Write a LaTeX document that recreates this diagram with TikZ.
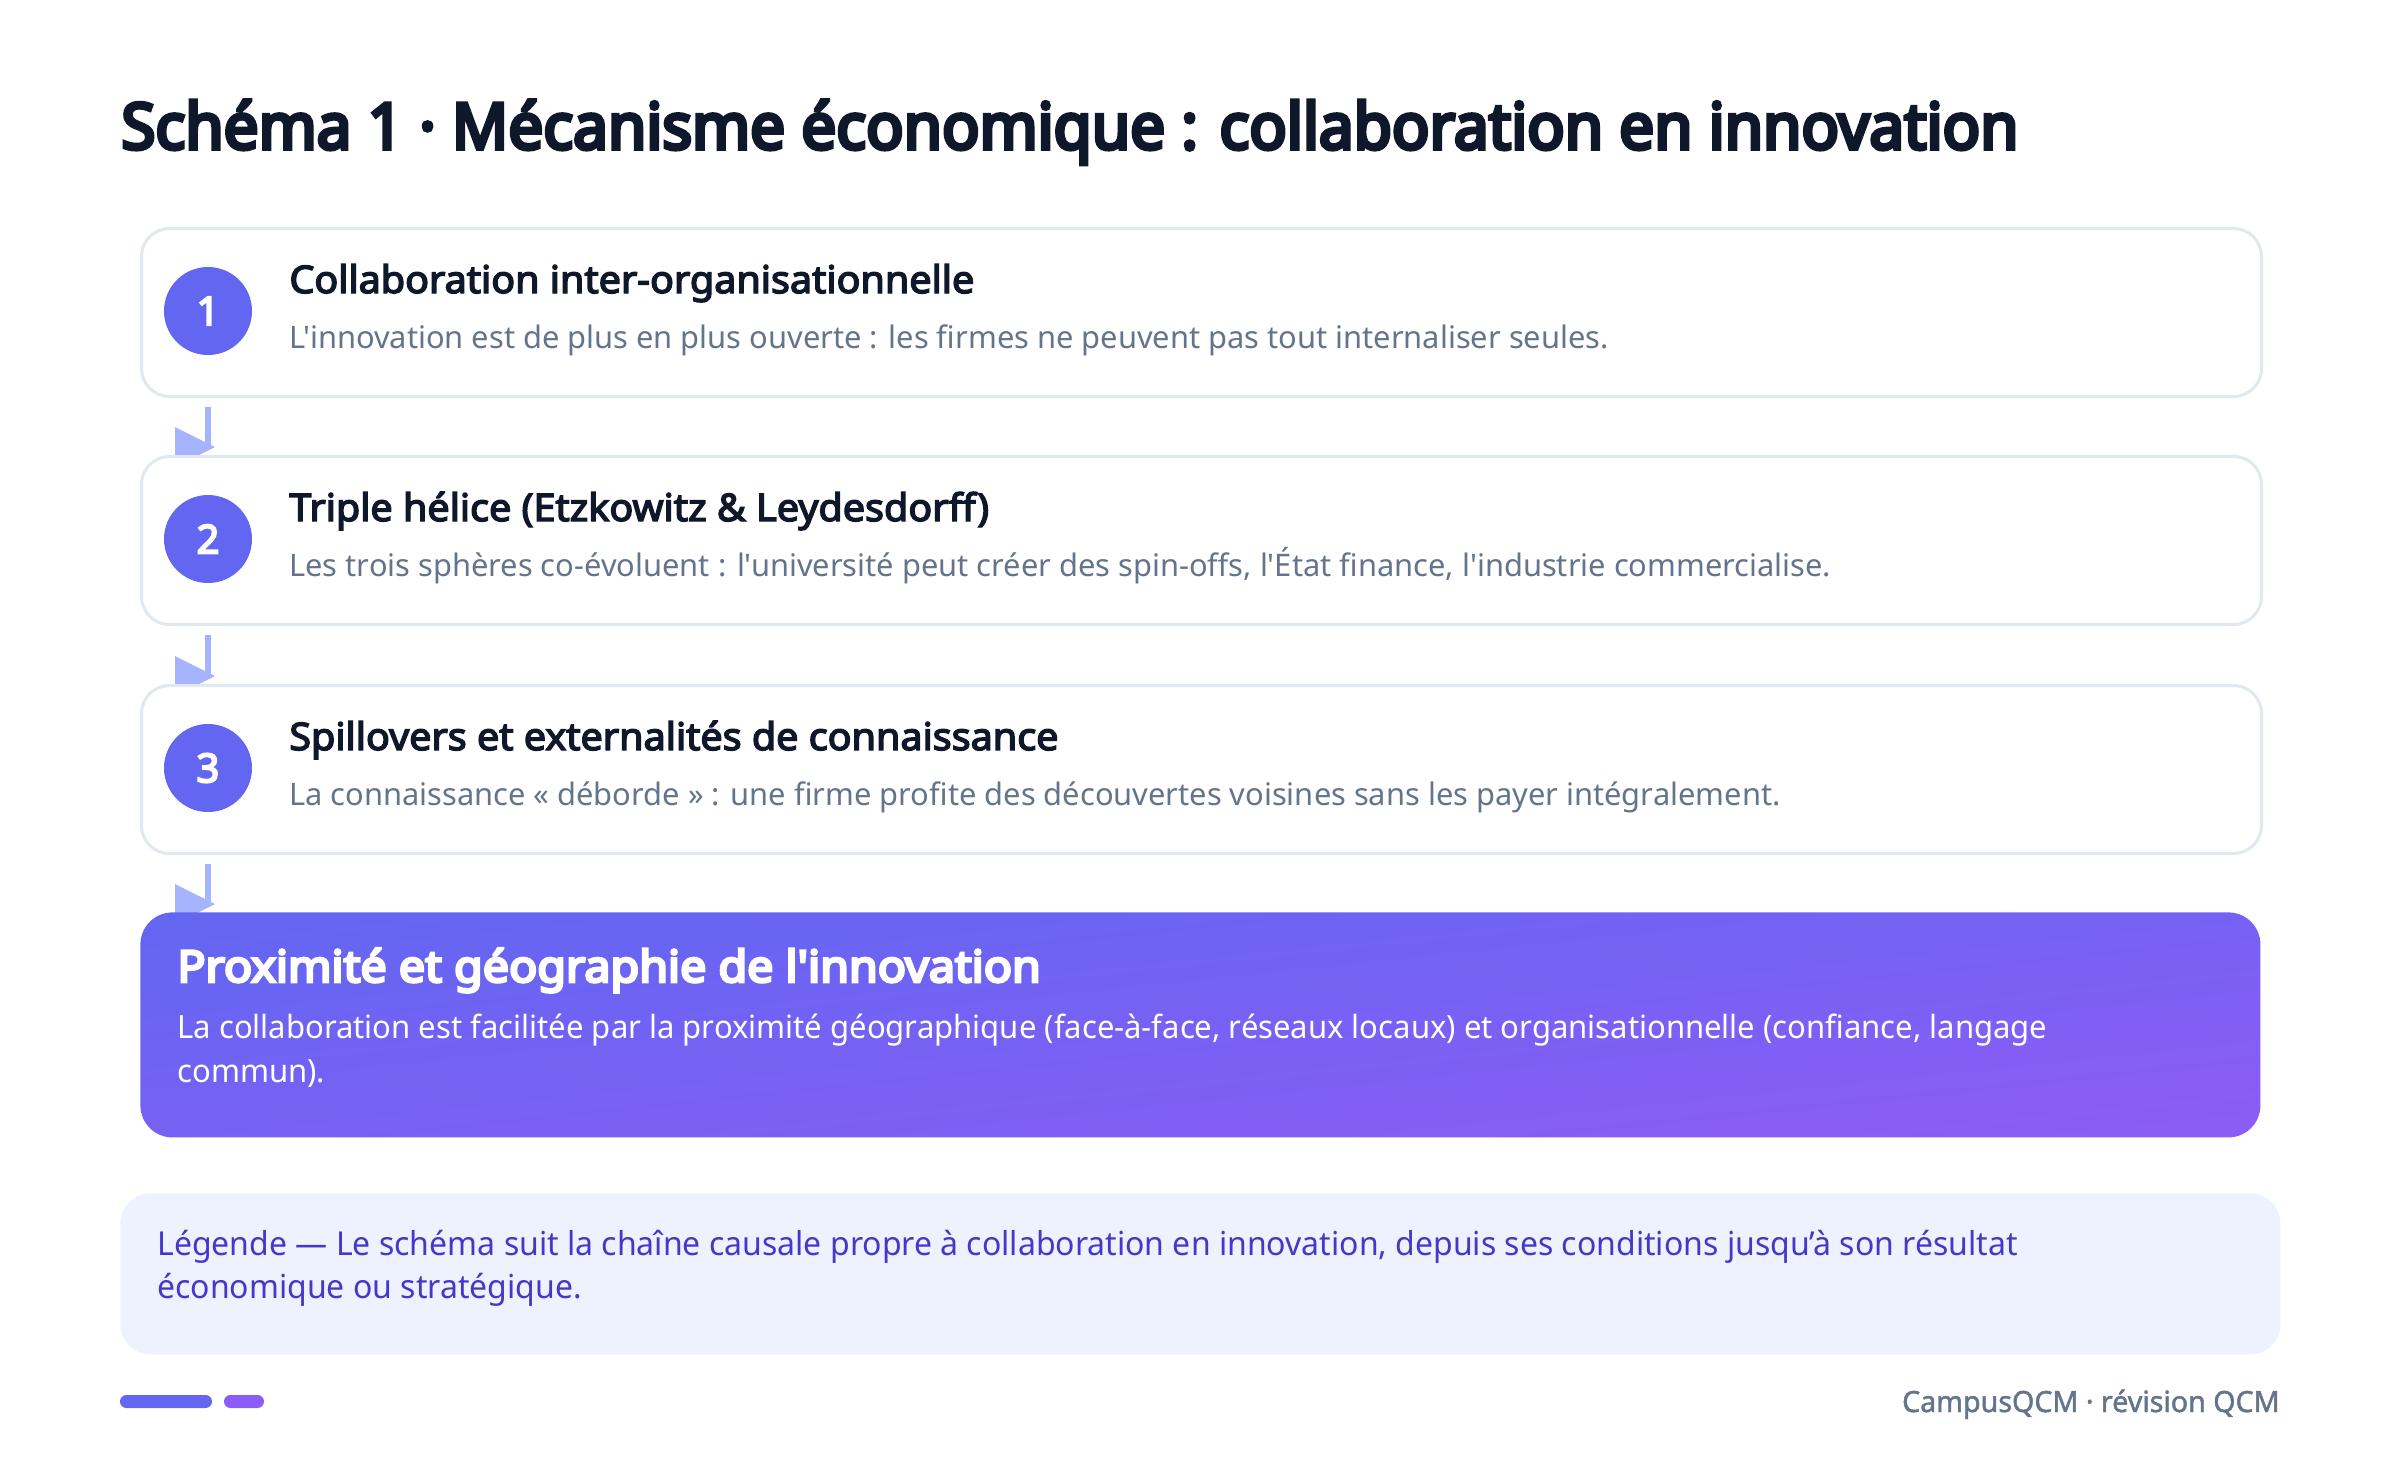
\documentclass[tikz,border=0pt]{standalone}
\usepackage{fontspec}
\setmainfont{Noto Sans}
\newfontfamily\titlefont{Noto Sans}[FakeStretch=0.97, FakeBold=6]
\newfontfamily\stepfont{Noto Sans}[FakeStretch=1.04, FakeBold=3.8]
\newfontfamily\heavyfont{Noto Sans}[FakeStretch=1.06, FakeBold=6]
\newfontfamily\numfont{Noto Sans}[FakeBold=4.5]
\newfontfamily\descfont{Noto Sans}[FakeStretch=0.97]
\newfontfamily\plainfont{Noto Sans}[FakeStretch=0.995]
\newfontfamily\footfont{Noto Sans}[FakeStretch=0.98, FakeBold=1.5]
\usetikzlibrary{calc}
\definecolor{ink}{HTML}{0F172A}
\definecolor{muted}{HTML}{64748B}
\definecolor{border}{HTML}{E2E8F0}
\definecolor{indigo}{HTML}{6366F1}
\definecolor{violet}{HTML}{8B5CF6}
\definecolor{arrowc}{HTML}{A5B4FC}
\definecolor{legbg}{HTML}{EEF2FF}
\definecolor{legtx}{HTML}{4338CA}
\pgfdeclarelayer{background}
\pgfsetlayers{background,main}
\begin{document}
\begin{tikzpicture}[x=0.5pt,y=-0.5pt,
  stepbox/.style={draw=border, line width=1.5pt, fill=white, rounded corners=14pt,
    minimum width=1060pt, minimum height=84pt, anchor=north west, inner sep=0pt},
  numcirc/.style={circle, fill=indigo, minimum size=44pt, inner sep=0pt, text=white,
    font=\numfont\fontsize{20}{24}\selectfont},
  steptitle/.style={anchor=base west, inner sep=0pt, text=ink,
    font=\stepfont\fontsize{19}{23}\selectfont},
  stepdesc/.style={anchor=base west, inner sep=0pt, text=muted,
    font=\plainfont\fontsize{15.5}{19}\selectfont},
  finalbox/.style={rounded corners=16pt, minimum width=1060pt, minimum height=112.5pt,
    anchor=north west, inner sep=0pt, top color=indigo, bottom color=violet, shading angle=6},
  fintitle/.style={anchor=base west, inner sep=0pt, text=white,
    font=\heavyfont\fontsize{22}{26}\selectfont},
  findesc/.style={anchor=base west, inner sep=0pt, text=white,
    font=\descfont\fontsize{16}{19}\selectfont},
  legbox/.style={fill=legbg, rounded corners=15pt, minimum width=1080pt, minimum height=80.5pt,
    anchor=north west, inner sep=0pt},
  legtext/.style={anchor=base west, inner sep=0pt, text=legtx,
    font=\descfont\fontsize{16.5}{20}\selectfont},
  flow/.style={draw=arrowc, line width=3pt},
  tipfill/.style={fill=arrowc},
  footer/.style={anchor=base east, inner sep=0pt, text=muted,
    font=\footfont\fontsize{14.6}{17}\selectfont}
]
\begin{pgfonlayer}{background}
\fill[white] (0,0) rectangle (2400,1463);
\end{pgfonlayer}
\useasboundingbox (0,0) rectangle (2400,1463);

\node[anchor=base west, inner sep=0pt, text=ink, font=\titlefont\fontsize{32}{38}\selectfont]
  (title) at (121,149) {Schéma 1 · Mécanisme économique : collaboration en innovation};

% step boxes
\node[stepbox] (b1) at (140,227) {};
\node[stepbox] (b2) at (140,455) {};
\node[stepbox] (b3) at (140,684) {};

\node[numcirc] (c1) at (208,311) {1};
\node[numcirc] (c2) at (208,539) {2};
\node[numcirc] (c3) at (208,768) {3};

\node[steptitle] (t1) at (289,293) {Collaboration inter-organisationnelle};
\node[stepdesc] (d1) at (289,348) {L'innovation est de plus en plus ouverte : les firmes ne peuvent pas tout internaliser seules.};
\node[steptitle] (t2) at (289,521) {Triple hélice (Etzkowitz \& Leydesdorff)};
\node[stepdesc] (d2) at (289,576) {Les trois sphères co-évoluent : l'université peut créer des spin-offs, l'État finance, l'industrie commercialise.};
\node[steptitle] (t3) at (289,750) {Spillovers et externalités de connaissance};
\node[stepdesc] (d3) at (289,805) {La connaissance « déborde » : une firme profite des découvertes voisines sans les payer intégralement.};

% final box
\node[finalbox] (fin) at (140,912) {};
\node[fintitle] (ft) at (177,982) {Proximité et géographie de l'innovation};
\node[findesc] (fd1) at (177,1038) {La collaboration est facilitée par la proximité géographique (face-à-face, réseaux locaux) et organisationnelle (confiance, langage};
\node[findesc] (fd2) at (177,1082) {commun).};

% connectors
\begin{pgfonlayer}{background}
\foreach \a/\b in {b1/b2, b2/b3, b3/fin} {
  \draw[flow] ($(\a.south -| c1)+(0,9)$) -- ($(\b.north -| c1)+(0,-8)$);
  \fill[tipfill] ($(\b.north -| c1)+(-33,-28)$) -- ++(40,20) -- ++(-40,20) -- cycle;
}
\end{pgfonlayer}

% legend
\node[legbox] (leg) at (120,1193) {};
\node[legtext] (l1) at (157,1255) {Légende — Le schéma suit la chaîne causale propre à collaboration en innovation, depuis ses conditions jusqu’à son résultat};
\node[legtext] (l2) at (157,1298) {économique ou stratégique.};

% footer
\fill[indigo, rounded corners=3.2pt] (120,1395) rectangle (212,1408);
\fill[violet, rounded corners=3.2pt] (224,1395) rectangle (264,1408);
\node[footer] (foot) at (2280,1412) {CampusQCM · révision QCM};
\end{tikzpicture}
\end{document}
